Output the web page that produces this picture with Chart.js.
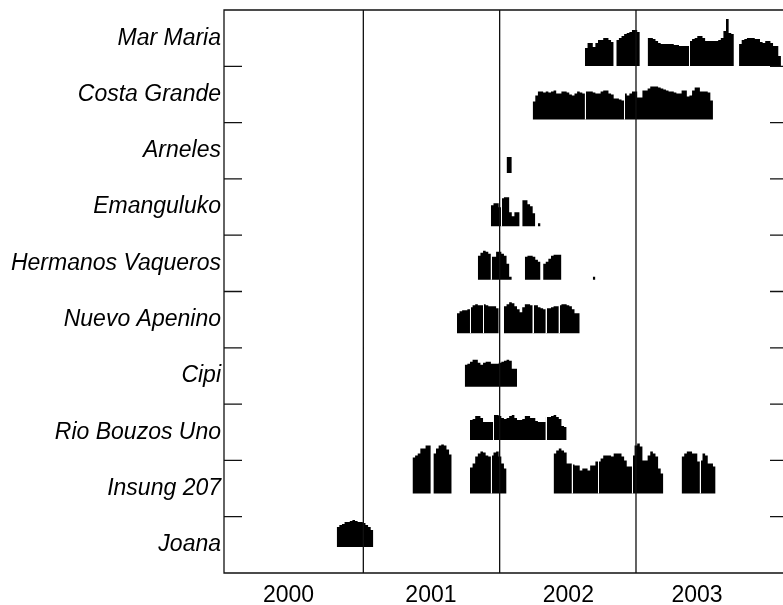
<!DOCTYPE html>
<html>
<head>
<meta charset="utf-8">
<script src="https://cdn.jsdelivr.net/npm/chart.js@4/dist/chart.umd.min.js"></script>
<style>
  html, body { margin: 0; padding: 0; overflow: hidden; background: #fff; }
  #wrap { width: 800px; height: 605px; position: relative; }
</style>
</head>
<body>
<div id="wrap"><canvas id="c"></canvas></div>
<script>
// Vessels, top row first
const vessels = ['Mar Maria', 'Costa Grande', 'Arneles', 'Emanguluko', 'Hermanos Vaqueros',
                 'Nuevo Apenino', 'Cipi', 'Rio Bouzos Uno', 'Insung 207', 'Joana'];

// Weekly activity, one entry per trip: [first week counted from 1 Jan 2000, weekly values]
const marMaria = [
  [137, [18, 23, 23, 19, 23, 26, 26, 28, 28, 26, 24]],
  [149, [26, 28, 30, 32, 33, 34, 36, 36, 34]],
  [161, [28, 28, 27, 25, 23, 22, 22, 22, 22, 22, 21, 21, 20, 20, 20, 20]],
  [177, [25, 27, 28, 30, 30, 28, 25, 25, 25, 25, 25, 26, 28, 35, 47, 33, 32]],
  [196, [22, 26, 27, 28, 28, 28, 27, 27, 24, 23, 25, 25, 23, 20, 20, 10]]
];
const costaGrande = [
  [117, [18, 24, 28, 28, 27, 28, 27, 28, 29, 26, 26, 28, 28, 27, 25, 24, 26, 28, 27, 26]],
  [137, [28, 28, 28, 27, 26, 26, 28, 29, 29, 26, 25, 21, 21, 20, 19]],
  [152, [26, 24, 26, 28, 28, 22, 22, 29, 29, 31, 33, 33, 33, 32, 31, 30, 29, 28, 28, 27,
         26, 26, 29, 29, 23, 24, 29, 32, 32, 28, 28, 28, 27, 19]]
];
const arneles = [
  [107, [16, 16]]
];
const emanguluko = [
  [101, [21, 23, 23, 19]],
  [105, [28, 29, 29, 14, 10, 14, 14]],
  [113, [26, 26, 22, 20, 13]],
  [119, [3]]
];
const hermanosVaqueros = [
  [96, [24, 27, 29, 28, 26]],
  [101, [23, 23, 28, 28, 26, 24, 16, 3]],
  [114, [23, 24, 24, 23, 20, 18]],
  [121, [16, 18, 21, 24, 25, 25, 25]],
  [140, [3]]
];
const nuevoApenino = [
  [88, [20, 22, 23, 23, 24]],
  [93, [26, 28, 29, 28, 28]],
  [98, [29, 28, 27, 27, 27, 25]],
  [106, [27, 29, 31, 30, 27, 24, 21, 26, 29, 29, 28]],
  [117, [28, 28, 26, 25, 24]],
  [122, [25, 25, 26, 27, 27]],
  [127, [28, 29, 29, 28, 27, 24, 20, 20]]
];
const cipi = [
  [91, [22, 23, 25, 27, 27, 24, 22, 24, 25, 25, 23, 23, 23, 24, 25, 26, 27, 26, 18, 18]]
];
const rioBouzosUno = [
  [93, [20, 21, 24, 24, 22, 18, 18, 18, 18]],
  [102, [25, 25, 24, 22, 21, 22, 24, 25, 22, 20, 20, 21, 24, 24, 22, 22, 19, 18, 18, 18]],
  [122, [23, 23, 24, 25, 23, 21, 14, 13]]
];
const insung207 = [
  [71, [36, 38, 40, 45, 45, 48, 48]],
  [79, [40, 45, 48, 49, 48, 44, 39]],
  [93, [26, 30, 37, 40, 42, 41, 38, 37]],
  [101, [38, 41, 42, 37, 30, 25]],
  [125, [40, 43, 45, 43, 41, 30, 30]],
  [132, [29, 28, 28, 23, 25, 25, 23, 28, 28, 32]],
  [142, [32, 35, 38, 38, 38, 37, 40, 40, 40, 37, 33, 27, 27]],
  [155, [38, 48, 50, 47, 33, 33, 38, 42, 40, 37, 25, 20]],
  [174, [37, 40, 42, 42, 40, 40, 32]],
  [181, [33, 40, 38, 30, 30, 27]]
];
const joana = [
  [42, [20, 22, 23, 25, 25, 26, 27, 26, 25, 25, 24, 22, 20, 17]]
];

// Year axis
const yearLabels = ['2000', '2001', '2002', '2003'];
const yearLabelAt = [2000.451, 2001.496, 2002.504, 2003.448];
const yearBreaks = [2001, 2002, 2003];

const tripsByVessel = [marMaria, costaGrande, arneles, emanguluko, hermanosVaqueros,
                       nuevoApenino, cipi, rioBouzosUno, insung207, joana];

const WEEKS_PER_YEAR = 52.18;
const ROW_STEP = 53.44;   // glyph baseline spacing, in value units
const TICK_LEN = 18;
const INK = '#111';

const weekToYear = w => 2000 + w / WEEKS_PER_YEAR;
const rowBase = i => (vessels.length - 1 - i) * ROW_STEP;

// Each vessel is one stepped outline: every week contributes its left and right edge,
// and a null closes each trip so the fill stops there.
const datasets = tripsByVessel.map((trips, i) => {
  const base = rowBase(i);
  const data = [];
  trips.forEach(([start, vals]) => {
    vals.forEach((v, k) => {
      data.push({ x: weekToYear(start + k), y: base + v });
      data.push({ x: weekToYear(start + k + 1), y: base + v });
    });
    data.push({ x: weekToYear(start + vals.length), y: null });
  });
  return {
    label: vessels[i],
    data,
    fill: { value: base },
    backgroundColor: '#000',
    borderWidth: 0,
    pointRadius: 0,
    spanGaps: false,
    tension: 0,
    xAxisID: 'x',
    yAxisID: 'yg'
  };
});

// Thin white cut where a trip follows straight on from the previous one
const tripCutPlugin = {
  id: 'tripCuts',
  afterDatasetsDraw(chart) {
    const { ctx, scales } = chart;
    const x = scales.x, yg = scales.yg;
    ctx.save();
    ctx.strokeStyle = '#fff';
    ctx.lineWidth = 1;
    tripsByVessel.forEach((trips, i) => {
      const base = rowBase(i);
      let prevEnd = null, prevLast = 0;
      trips.forEach(([start, vals]) => {
        const touching = prevEnd === start;
        const top = Math.max(vals[0], touching ? prevLast : 0);
        if (touching) {
          const px = Math.round(x.getPixelForValue(weekToYear(start))) + 0.5;
          ctx.beginPath();
          ctx.moveTo(px, yg.getPixelForValue(base));
          ctx.lineTo(px, yg.getPixelForValue(base + top) - 1);
          ctx.stroke();
        }
        prevEnd = start + vals.length;
        prevLast = vals[vals.length - 1];
      });
    });
    ctx.restore();
  }
};

// Box, year separators and inward row ticks on both sides
const framePlugin = {
  id: 'frame',
  afterDatasetsDraw(chart) {
    const { ctx, chartArea: a, scales } = chart;
    const x = scales.x, y = scales.y;
    ctx.save();
    ctx.strokeStyle = INK;
    ctx.lineWidth = 1.3;
    ctx.beginPath();
    ctx.rect(a.left, a.top, a.right - a.left, a.bottom - a.top);
    yearBreaks.forEach(v => {
      const px = x.getPixelForValue(v);
      ctx.moveTo(px, a.top);
      ctx.lineTo(px, a.bottom);
    });
    for (let i = 1; i < vessels.length; i++) {
      const py = y.getPixelForValue(i);
      ctx.moveTo(a.left, py);
      ctx.lineTo(a.left + TICK_LEN, py);
      ctx.moveTo(a.right - TICK_LEN, py);
      ctx.lineTo(a.right, py);
    }
    ctx.stroke();
    ctx.restore();
  }
};

new Chart(document.getElementById('c'), {
  type: 'line',
  data: { datasets },
  options: {
    responsive: true,
    maintainAspectRatio: false,
    animation: false,
    layout: { padding: { left: 0, top: 10, right: 12, bottom: 0 } },
    plugins: { legend: { display: false }, tooltip: { enabled: false } },
    scales: {
      x: {
        type: 'linear',
        min: 1999.978,
        max: 2004.115,
        offset: false,
        grid: { display: false, drawTicks: false },
        border: { display: false },
        afterBuildTicks: s => { s.ticks = yearLabelAt.map(v => ({ value: v })); },
        afterFit: s => { s.height = 32; s.paddingLeft = 0; s.paddingRight = 0; },
        ticks: {
          autoSkip: false,
          maxRotation: 0,
          padding: 9,
          color: '#000',
          font: { family: 'Liberation Sans', size: 23 },
          callback: (v, i) => yearLabels[i]
        }
      },
      y: {
        type: 'linear',
        position: 'left',
        min: 0,
        max: 10,
        grid: { display: false, drawTicks: false },
        border: { display: false },
        afterBuildTicks: s => {
          s.ticks = vessels.map((_, i) => ({ value: i + 0.5 }));
        },
        afterFit: s => { s.width = 224; s.paddingTop = 0; s.paddingBottom = 0; },
        ticks: {
          autoSkip: false,
          padding: 3,
          color: '#000',
          font: { family: 'Liberation Sans', style: 'italic', size: 23 },
          callback: v => vessels[vessels.length - 1 - Math.floor(v)]
        }
      },
      yg: {
        type: 'linear',
        display: false,
        min: -26,
        max: 537
      }
    }
  },
  plugins: [tripCutPlugin, framePlugin]
});
</script>
</body>
</html>
